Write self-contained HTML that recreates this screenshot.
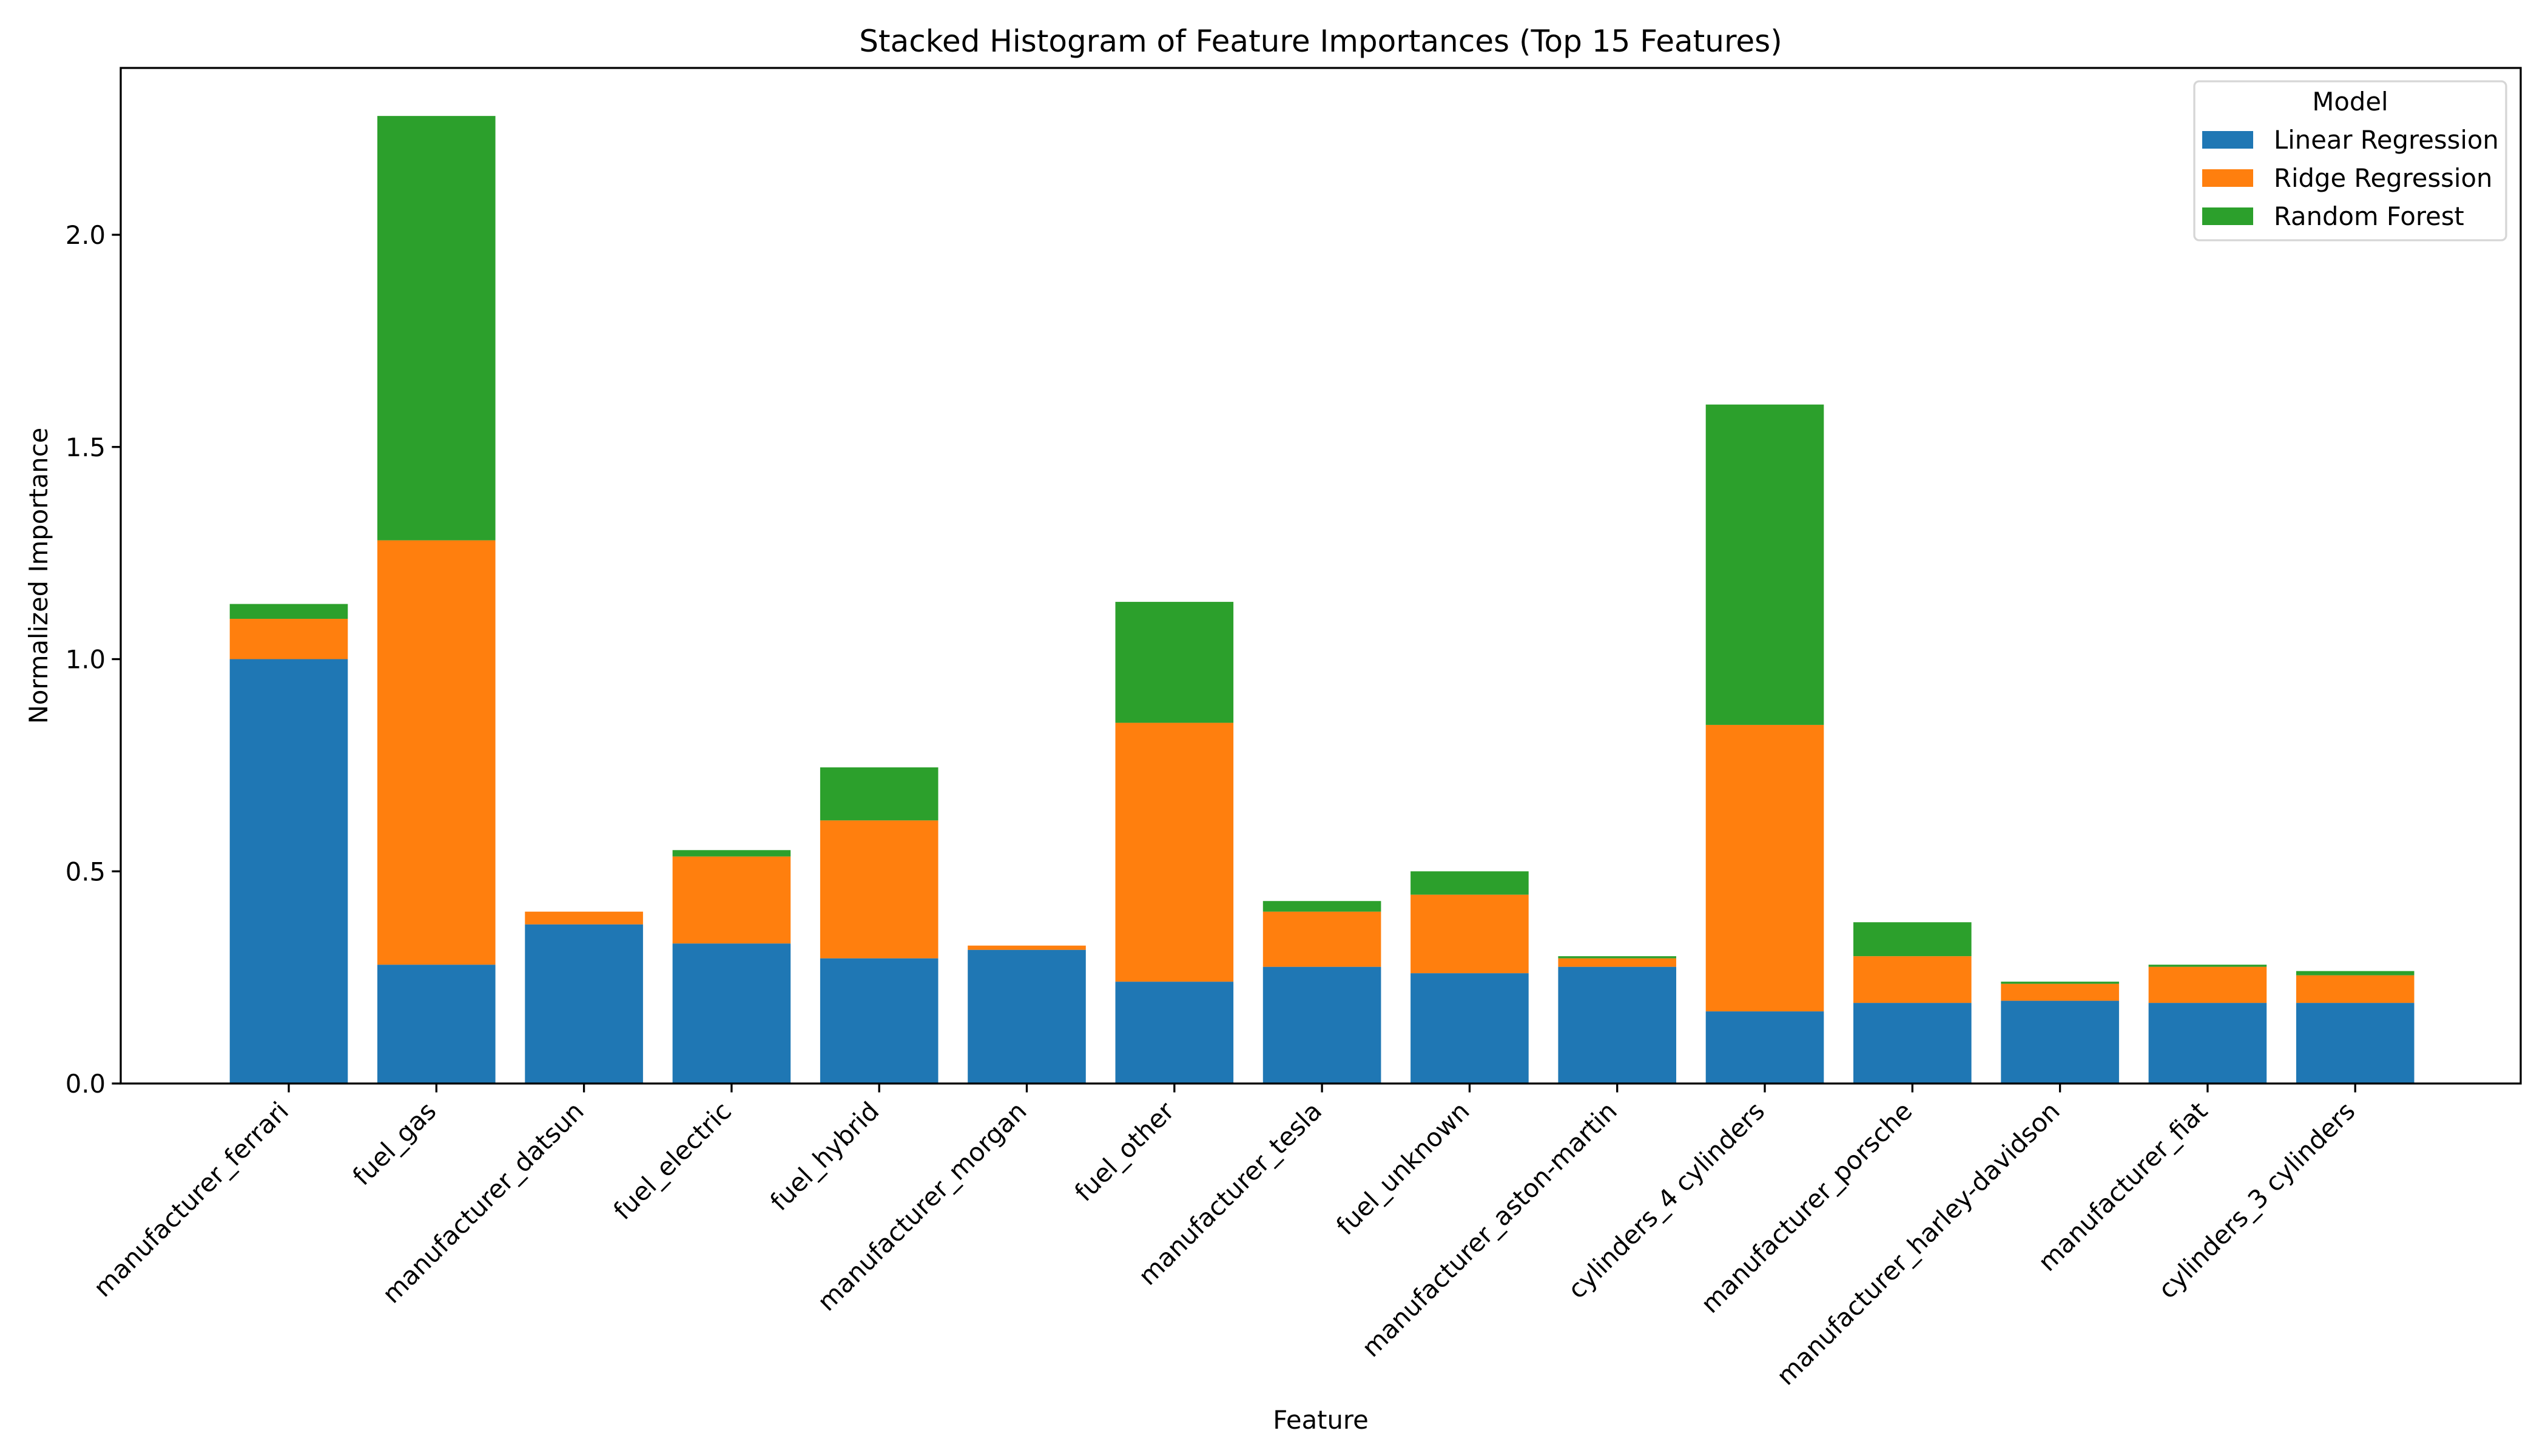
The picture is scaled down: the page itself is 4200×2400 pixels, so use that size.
<!DOCTYPE html>
<html><head><meta charset="utf-8">
<style>html,body{margin:0;padding:0;background:#fff}svg{display:block}text{font-family:"DejaVu Sans","Liberation Sans",sans-serif;fill:#000}</style>
</head><body>
<svg id="chart" width="4200" height="2400" viewBox="0 0 4200 2400" xmlns="http://www.w3.org/2000/svg">
<text x="2177" y="85" font-size="50" text-anchor="middle">Stacked Histogram of Feature Importances (Top 15 Features)</text>
<g id="bars"></g>
<g id="axes"></g>
<text x="0" y="0" font-size="41.7" text-anchor="middle" transform="translate(78,949) rotate(-90)">Normalized Importance</text>
<text x="2177" y="2355" font-size="41.7" text-anchor="middle">Feature</text>
<g>
<rect x="3617" y="134" width="514" height="262" rx="8" fill="#fff" fill-opacity="0.8" stroke="#d6d6d6" stroke-width="3.3"/>
<text x="3874" y="182" font-size="41.7" text-anchor="middle">Model</text>
<rect x="3630" y="216" width="84" height="29" fill="#1f77b4"/>
<text x="3748" y="245" font-size="41.7">Linear Regression</text>
<rect x="3630" y="279" width="84" height="29" fill="#ff7f0e"/>
<text x="3748" y="308" font-size="41.7">Ridge Regression</text>
<rect x="3630" y="342" width="84" height="29" fill="#2ca02c"/>
<text x="3748" y="371" font-size="41.7">Random Forest</text>
</g>
</svg>
<script>
const categories = ["manufacturer_ferrari","fuel_gas","manufacturer_datsun","fuel_electric","fuel_hybrid","manufacturer_morgan","fuel_other","manufacturer_tesla","fuel_unknown","manufacturer_aston-martin","cylinders_4 cylinders","manufacturer_porsche","manufacturer_harley-davidson","manufacturer_fiat","cylinders_3 cylinders"];
const linearValues = [1.0,0.28,0.375,0.33,0.295,0.315,0.24,0.275,0.26,0.275,0.17,0.19,0.195,0.19,0.19];
const ridgeValues = [0.095,1.0,0.03,0.205,0.325,0.01,0.61,0.13,0.185,0.02,0.675,0.11,0.04,0.085,0.065];
const forestValues = [0.035,1.0,0.0,0.015,0.125,0.0,0.285,0.025,0.055,0.005,0.755,0.08,0.005,0.005,0.01];
const yTicks = [0.0,0.5,1.0,1.5,2.0];
const yTickLabels = ["0.0","0.5","1.0","1.5","2.0"];

const NS="http://www.w3.org/2000/svg";
const L=199,R=4155,T=112,B=1786;
const x0=476, step=243.3, bw=194.6;
function xs(i){return x0+step*i;}
function ys(v){return B-v*699.5;}
function mk(tag,attrs,parent){const e=document.createElementNS(NS,tag);for(const k in attrs)e.setAttribute(k,attrs[k]);parent.appendChild(e);return e;}
const bars=document.getElementById('bars'), axes=document.getElementById('axes');
const series=[[linearValues,'#1f77b4','linear'],[ridgeValues,'#ff7f0e','ridge'],[forestValues,'#2ca02c','rf']];
categories.forEach((c,i)=>{
  let base=0;
  series.forEach(([vals,col,nm])=>{
    const v=vals[i];
    const r=mk('rect',{x:xs(i)-bw/2,y:ys(base+v),width:bw,height:ys(base)-ys(base+v),fill:col},bars);
    
    
    base+=v;
  });
  const t=mk('line',{x1:xs(i),x2:xs(i),y1:B,y2:B+14.6,stroke:'#000','stroke-width':3.3},axes);
  
  
  const lb=mk('text',{'font-size':41.7,'text-anchor':'end',transform:`translate(${xs(i)-20},${B+26}) rotate(-45)`,dy:'0.75em'},axes);
  lb.textContent=c;
  
  
});
yTicks.forEach((v,k)=>{
  const t=mk('line',{x1:L-14.6,x2:L,y1:ys(v),y2:ys(v),stroke:'#000','stroke-width':3.3},axes);
  
  
  const lb=mk('text',{x:L-25,y:ys(v)+15,'font-size':41.7,'text-anchor':'end'},axes);
  lb.textContent=yTickLabels[k];
  
  
});
const fr=mk('rect',{x:L,y:T,width:R-L,height:B-T,fill:'none',stroke:'#000','stroke-width':3.3},axes);


</script>
</body></html>
